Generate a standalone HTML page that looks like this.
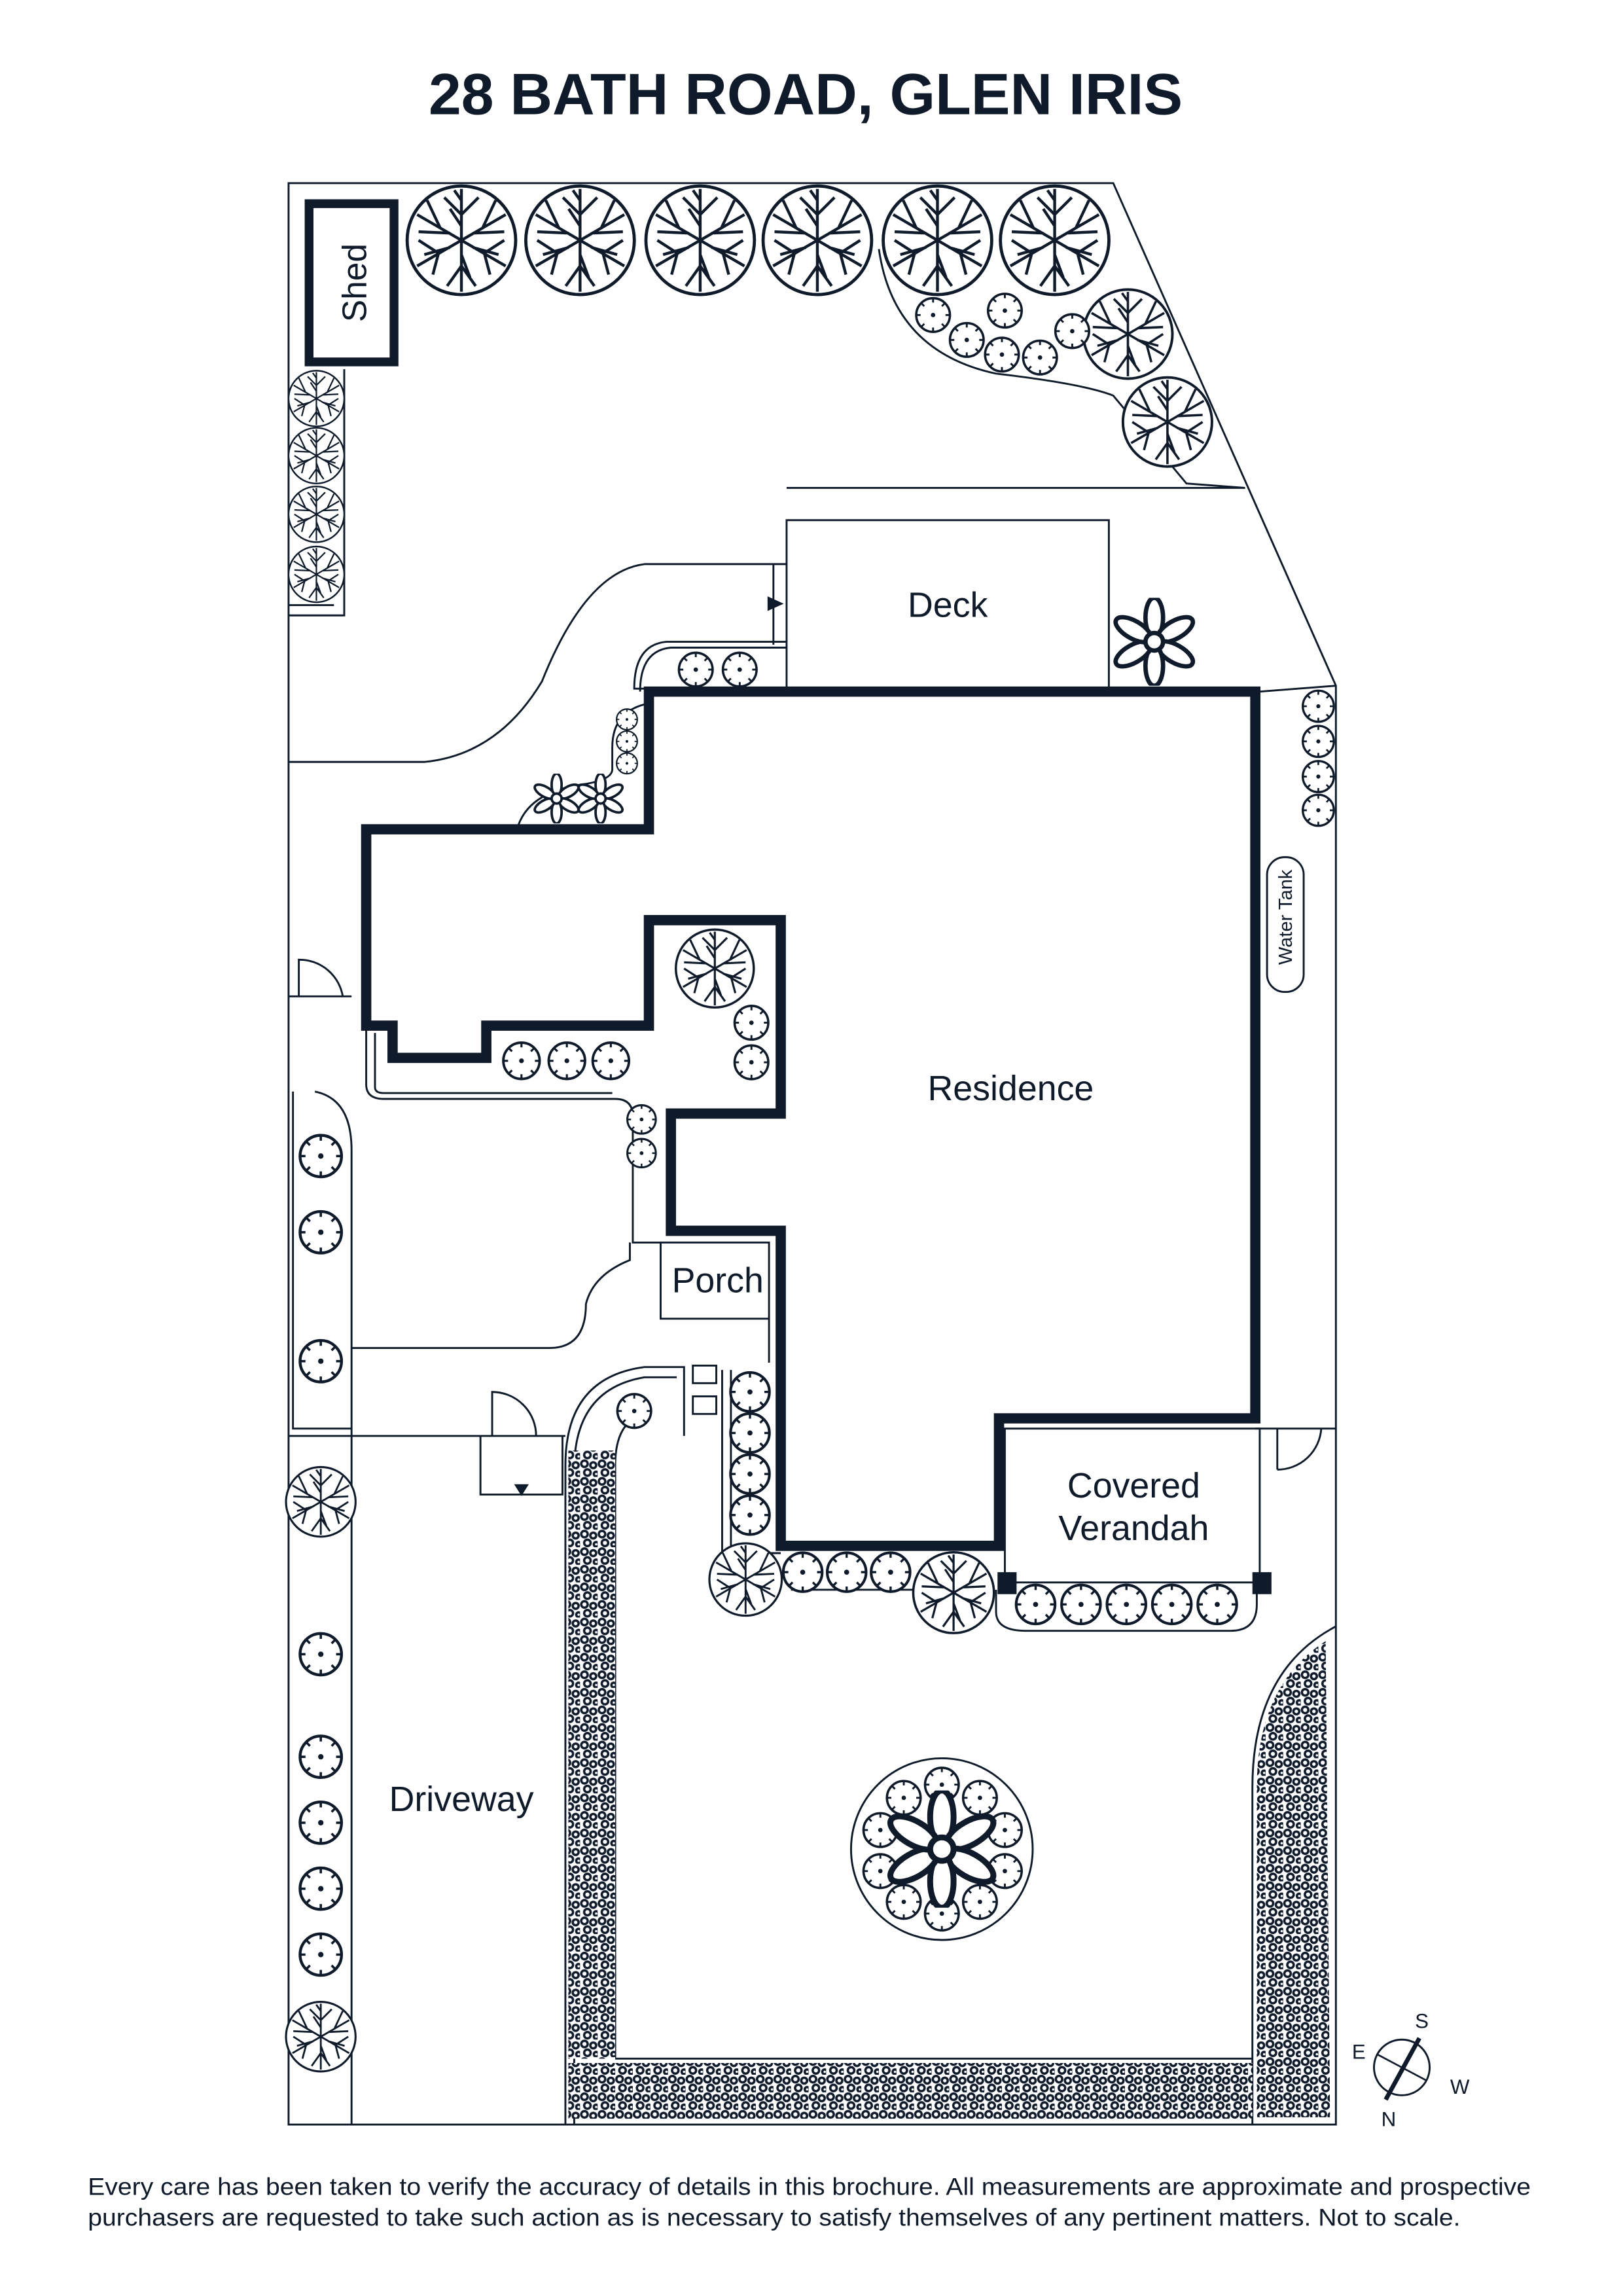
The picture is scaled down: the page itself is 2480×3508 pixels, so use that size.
<!DOCTYPE html>
<html><head><meta charset="utf-8"><style>
html,body{margin:0;padding:0;background:#fff}
svg{display:block}
text{font-family:"Liberation Sans",sans-serif;fill:#0f1a2a}
</style></head><body>
<svg width="2480" height="3508" viewBox="0 0 1108 1567" preserveAspectRatio="none" xmlns="http://www.w3.org/2000/svg">
<defs>
<symbol id="tree" viewBox="-40 -40 80 80">
<circle r="38" fill="#fff" stroke="#0f1a2a" stroke-width="2.2"/>
<g stroke="#0f1a2a" stroke-width="2" fill="none">
<path d="M0 0 L0 -36 M0 -18 L-12 -30 M0 -18 L12 -30 M0 -28 L-5 -35 M0 -10 L-8 -22"/>
<path d="M0 0 L31 18 M16 9 L30 0 M16 9 L20 24 M8 5 L26 10"/>
<path d="M0 0 L-31 18 M-16 9 L-30 0 M-16 9 L-20 24 M-8 5 L-26 10"/>
<path d="M0 0 L0 36 M0 18 L-10 32 M0 18 L10 32 M0 10 L6 26"/>
<path d="M0 0 L31 -18 M15 -9 L24 -28 M0 0 L-31 -18 M-15 -9 L-24 -28 M8 -5 L30 -6 M-8 -5 L-30 -6"/>
</g></symbol>
<symbol id="shrub" viewBox="-13 -13 26 26">
<circle r="11.5" fill="#fff" stroke="#0f1a2a" stroke-width="1.6"/>
<circle r="1.5" fill="#0f1a2a"/>
<g stroke="#0f1a2a" stroke-width="1.3"><path d="M0 -11.5v3M0 11.5v-3M-11.5 0h3M11.5 0h-3M8 -8l-2 2M-8 8l2 -2M-8 -8l2 2M8 8l-2 -2"/></g>
</symbol>
<symbol id="star" viewBox="-20 -20 40 40">
<g fill="#fff" stroke="#0f1a2a" stroke-width="2">
<ellipse cx="0" cy="-11" rx="4" ry="9"/><ellipse cx="0" cy="-11" rx="4" ry="9" transform="rotate(60)"/><ellipse cx="0" cy="-11" rx="4" ry="9" transform="rotate(120)"/><ellipse cx="0" cy="-11" rx="4" ry="9" transform="rotate(180)"/><ellipse cx="0" cy="-11" rx="4" ry="9" transform="rotate(240)"/><ellipse cx="0" cy="-11" rx="4" ry="9" transform="rotate(300)"/>
<circle r="4"/></g></symbol>
<pattern id="hedge" width="12" height="12" patternUnits="userSpaceOnUse">
<rect width="12" height="12" fill="#fff"/>
<g fill="none" stroke="#0f1a2a" stroke-width="1.6"><circle cx="3" cy="3" r="2.2"/><circle cx="9" cy="4" r="2"/><circle cx="5" cy="9" r="2.2"/><circle cx="11" cy="10" r="1.6"/></g>
</pattern>
</defs>

<text x="550" y="78" text-anchor="middle" font-size="40" font-weight="bold">28 BATH ROAD, GLEN IRIS</text>

<g fill="none" stroke="#0f1a2a" stroke-width="1.3">
<path d="M197 125 L760 125 L912 468 L912 1450 L197 1450 Z"/>
<path d="M537 333 L850 333"/>
<rect x="537" y="355" width="220" height="115"/>
<path d="M757 470 L857 470"/>
<path d="M860 472 L912 468"/>
<path d="M600 170 Q610 240 680 255 Q740 262 760 270 L810 330 L850 333"/>
<path d="M197 420 L235 420 L235 252"/>
<path d="M197 413 L228 413"/>
<path d="M197 520 L290 520 Q340 515 370 465 Q400 390 440 385 L537 385"/>
<path d="M528 385 L528 440"/>
<path d="M537 438 L455 438 Q433 440 433 470 L443 470"/>
<path d="M537 442 L458 442 Q437 444 437 472"/>
<path d="M443 480 Q418 485 418 510 L418 525 Q418 532 400 535 Q360 540 353 566"/>
<path d="M197 680 L240 680"/>
<path d="M250 700 L250 740 Q250 750 262 750 L420 750 Q432 750 432 762 L432 848 L451 848"/>
<path d="M256 705 L256 742 Q256 746 262 746 L418 746"/>
<path d="M204 680 L204 655 A30 30 0 0 1 234 680"/>
<path d="M240 920 L375 920 Q400 920 400 890 Q405 870 430 860 L430 848"/>
<path d="M200 745 L200 975 L240 975 L240 785 Q240 750 215 745"/>
<path d="M197 980 L386 980"/>
<path d="M240 975 L240 1450"/>
<path d="M328 980 L328 1020 L384 1020 L384 980"/>
<path d="M336 980 L336 950 A30 30 0 0 1 366 980"/>
<path d="M386 1450 L386 1000 Q386 940 440 933 L467 933 L467 980"/>
<path d="M392 1450 L392 1003 Q392 948 440 940 L462 940"/>
<rect x="473" y="932" width="16" height="12"/><rect x="473" y="953" width="16" height="12"/>
<path d="M493 935 L493 1060 L533 1060"/>
<path d="M499 935 L499 1055"/>
<rect x="451" y="848" width="74" height="52"/>
<path d="M525 900 L525 930"/>
<rect x="686" y="975" width="174" height="105"/>
<path d="M857 975 L912 975"/>
<path d="M872 1003 L872 975 M872 1003 A30 30 0 0 0 902 975"/>
<path d="M680 1085 L680 1100 Q680 1113 700 1113 L840 1113 Q858 1113 858 1095 L858 1080"/>
<path d="M540 1085 L625 1085"/>
<path d="M912 1110 Q855 1140 855 1220 L855 1450"/>
<path d="M420 1405 L420 1000 Q420 970 440 965"/>
<path d="M420 1405 L855 1405"/>
<rect x="865" y="585" width="25" height="92" rx="12"/>
<circle cx="643" cy="1262" r="62"/>
</g>

<path d="M388 990 L420 990 L420 1405 L388 1405 Z" fill="url(#hedge)"/>
<path d="M388 1408 L855 1408 L855 1446 L388 1446 Z" fill="url(#hedge)"/>
<path d="M858 1445 L858 1220 Q858 1150 905 1120 L908 1445 Z" fill="url(#hedge)"/>

<path d="M443 472 L857 472 L857 968 L682 968 L682 1055 L533 1055 L533 840 L458 840 L458 760 L533 760 L533 628 L443 628 L443 700 L332 700 L332 722 L268 722 L268 700 L250 700 L250 566 L443 566 Z" fill="none" stroke="#0f1a2a" stroke-width="7"/>
<rect x="211" y="139" width="58" height="108" fill="none" stroke="#0f1a2a" stroke-width="6"/>
<rect x="681" y="1073" width="13" height="15" fill="#0f1a2a"/>
<rect x="855" y="1073" width="13" height="15" fill="#0f1a2a"/>
<path d="M524 407 L535 412 L524 417 Z" fill="#0f1a2a"/>
<path d="M351 1013 L356 1021 L361 1013 Z" fill="#0f1a2a"/>

<use href="#tree" x="276" y="125" width="78" height="78"/>
<use href="#tree" x="357" y="125" width="78" height="78"/>
<use href="#tree" x="439" y="125" width="78" height="78"/>
<use href="#tree" x="519" y="125" width="78" height="78"/>
<use href="#tree" x="601" y="125" width="78" height="78"/>
<use href="#tree" x="681" y="125" width="78" height="78"/>
<use href="#tree" x="738" y="196" width="64" height="64"/>
<use href="#tree" x="765" y="256" width="64" height="64"/>
<use href="#tree" x="196" y="252" width="40" height="40"/>
<use href="#tree" x="196" y="291" width="40" height="40"/>
<use href="#tree" x="196" y="331" width="40" height="40"/>
<use href="#tree" x="196" y="372" width="40" height="40"/>
<use href="#tree" x="460" y="633" width="56" height="56"/>
<use href="#tree" x="194" y="1000" width="50" height="50"/>
<use href="#tree" x="194" y="1365" width="50" height="50"/>
<use href="#tree" x="483" y="1052" width="52" height="52"/>
<use href="#tree" x="622" y="1057" width="58" height="60"/>

<g>
<use href="#shrub" x="624" y="202" width="26" height="26"/>
<use href="#shrub" x="647" y="219" width="26" height="26"/>
<use href="#shrub" x="673" y="199" width="26" height="26"/>
<use href="#shrub" x="671" y="229" width="26" height="26"/>
<use href="#shrub" x="697" y="231" width="26" height="26"/>
<use href="#shrub" x="719" y="213" width="26" height="26"/>
<use href="#shrub" x="462" y="444" width="26" height="26"/>
<use href="#shrub" x="492" y="444" width="26" height="26"/>
<use href="#shrub" x="420" y="483" width="16" height="16"/>
<use href="#shrub" x="420" y="498" width="16" height="16"/>
<use href="#shrub" x="420" y="513" width="16" height="16"/>
<use href="#shrub" x="888" y="470" width="24" height="24"/>
<use href="#shrub" x="888" y="494" width="24" height="24"/>
<use href="#shrub" x="888" y="518" width="24" height="24"/>
<use href="#shrub" x="888" y="541" width="24" height="24"/>
<use href="#shrub" x="500" y="685" width="26" height="26"/>
<use href="#shrub" x="500" y="712" width="26" height="26"/>
<use href="#shrub" x="342" y="710" width="28" height="28"/>
<use href="#shrub" x="373" y="710" width="28" height="28"/>
<use href="#shrub" x="403" y="710" width="28" height="28"/>
<use href="#shrub" x="427" y="753" width="22" height="22"/>
<use href="#shrub" x="427" y="776" width="22" height="22"/>
<use href="#shrub" x="203" y="773" width="32" height="32"/>
<use href="#shrub" x="203" y="825" width="32" height="32"/>
<use href="#shrub" x="203" y="913" width="32" height="32"/>
<use href="#shrub" x="203" y="1113" width="32" height="32"/>
<use href="#shrub" x="203" y="1183" width="32" height="32"/>
<use href="#shrub" x="203" y="1228" width="32" height="32"/>
<use href="#shrub" x="203" y="1273" width="32" height="32"/>
<use href="#shrub" x="203" y="1318" width="32" height="32"/>
<use href="#shrub" x="420" y="950" width="26" height="26"/>
<use href="#shrub" x="497" y="935" width="30" height="30"/>
<use href="#shrub" x="497" y="963" width="30" height="30"/>
<use href="#shrub" x="497" y="991" width="30" height="30"/>
<use href="#shrub" x="497" y="1019" width="30" height="30"/>
<use href="#shrub" x="533" y="1058" width="30" height="30"/>
<use href="#shrub" x="563" y="1058" width="30" height="30"/>
<use href="#shrub" x="593" y="1058" width="30" height="30"/>
<use href="#shrub" x="692" y="1080" width="30" height="30"/>
<use href="#shrub" x="723" y="1080" width="30" height="30"/>
<use href="#shrub" x="754" y="1080" width="30" height="30"/>
<use href="#shrub" x="785" y="1080" width="30" height="30"/>
<use href="#shrub" x="816" y="1080" width="30" height="30"/>
<use href="#shrub" x="630" y="1205" width="26" height="26"/>
<use href="#shrub" x="656" y="1214" width="26" height="26"/>
<use href="#shrub" x="673" y="1236" width="26" height="26"/>
<use href="#shrub" x="673" y="1264" width="26" height="26"/>
<use href="#shrub" x="656" y="1285" width="26" height="26"/>
<use href="#shrub" x="630" y="1293" width="26" height="26"/>
<use href="#shrub" x="604" y="1285" width="26" height="26"/>
<use href="#shrub" x="588" y="1264" width="26" height="26"/>
<use href="#shrub" x="588" y="1236" width="26" height="26"/>
<use href="#shrub" x="604" y="1214" width="26" height="26"/>
</g>
<use href="#star" x="363" y="528" width="34" height="34"/>
<use href="#star" x="393" y="528" width="34" height="34"/>
<use href="#star" x="758" y="408" width="60" height="60"/>
<use href="#star" x="603" y="1222" width="80" height="80"/>

<text transform="translate(250,193) rotate(-90)" text-anchor="middle" font-size="23">Shed</text>
<text x="647" y="421" text-anchor="middle" font-size="24">Deck</text>
<text x="690" y="751" text-anchor="middle" font-size="24">Residence</text>
<text x="490" y="882" text-anchor="middle" font-size="24">Porch</text>
<text x="774" y="1022" text-anchor="middle" font-size="24">Covered</text>
<text x="774" y="1051" text-anchor="middle" font-size="24">Verandah</text>
<text x="315" y="1236" text-anchor="middle" font-size="24">Driveway</text>
<text transform="translate(882,626) rotate(-90)" text-anchor="middle" font-size="13">Water Tank</text>

<circle cx="957" cy="1411" r="19" fill="none" stroke="#0f1a2a" stroke-width="1.3"/>
<path d="M940 1402 L974 1420" stroke="#0f1a2a" stroke-width="1.2"/>
<path d="M946 1433 L969 1391" stroke="#0f1a2a" stroke-width="3"/>
<text x="966" y="1384" font-size="14">S</text>
<text x="990" y="1429" font-size="14">W</text>
<text x="943" y="1451" font-size="14">N</text>
<text x="923" y="1405" font-size="14">E</text>

<text x="60" y="1498" font-size="16.5" textLength="985" lengthAdjust="spacingAndGlyphs">Every care has been taken to verify the accuracy of details in this brochure. All measurements are approximate and prospective</text>
<text x="60" y="1519" font-size="16.5" textLength="937" lengthAdjust="spacingAndGlyphs">purchasers are requested to take such action as is necessary to satisfy themselves of any pertinent matters. Not to scale.</text>
</svg>
</body></html>
